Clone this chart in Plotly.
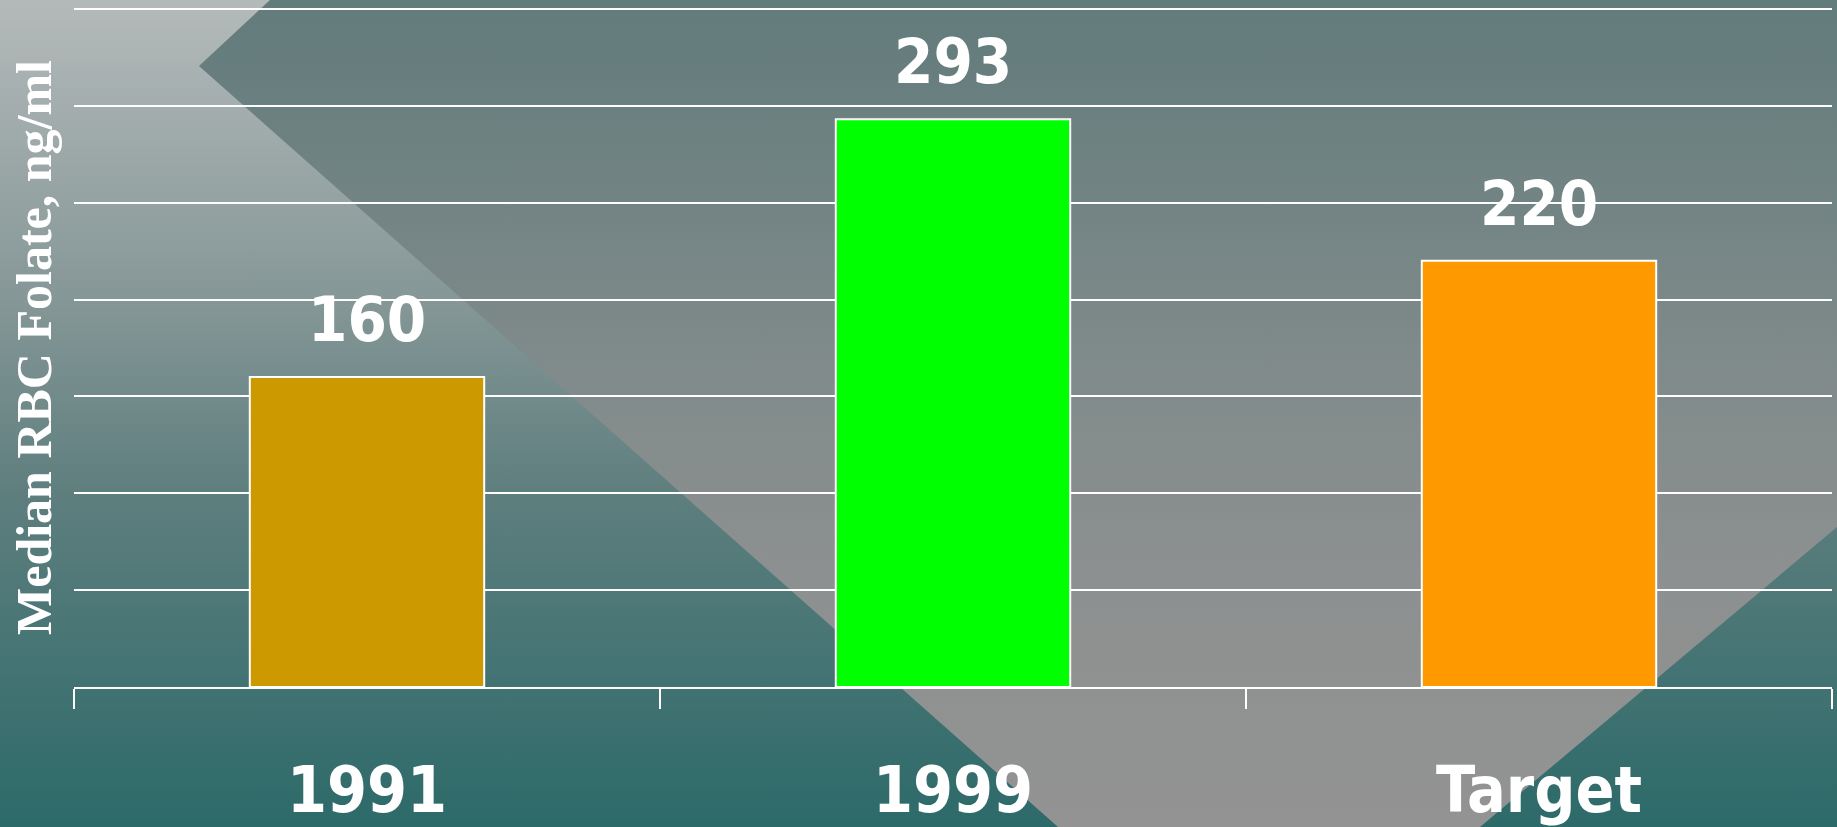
import base64
import plotly.graph_objects as go

# ---- data ----
categories = ["1991", "1999", "Target"]
values = [160, 293, 220]
bar_colors = ["#CC9900", "#00FF00", "#FF9900"]
y_title = "Median RBC Folate, ng/ml"

# ---- figure geometry ----
W, H = 1837, 827
ML, MR, MT, MB = 74, 5, 5, 140
PW, PH = W - ML - MR, H - MT - MB

LABEL_FONT = "DejaVu Sans Condensed, Inter, sans-serif"

# ---- decorative slide background (gradients) as an SVG image ----
svg = f'''<svg xmlns="http://www.w3.org/2000/svg" width="{W}" height="{H}" viewBox="0 0 {W} {H}" preserveAspectRatio="none">
<defs>
<linearGradient id="g1" x1="0" y1="0" x2="0" y2="1">
<stop offset="0" stop-color="#b4baba"/>
<stop offset="0.36" stop-color="#869797"/>
<stop offset="0.6" stop-color="#5e7e7e"/>
<stop offset="1" stop-color="#2c6a69"/>
</linearGradient>
<linearGradient id="g2" x1="0" y1="0" x2="0" y2="1">
<stop offset="0" stop-color="#627b7b"/>
<stop offset="0.42" stop-color="#7f8a8a"/>
<stop offset="0.7" stop-color="#8d9090"/>
<stop offset="1" stop-color="#939393"/>
</linearGradient>
</defs>
<rect x="0" y="0" width="{W}" height="{H}" fill="url(#g1)"/>
<polygon points="270,0 199,66 1058,{H} 1480,{H} {W},527 {W},0" fill="url(#g2)"/>
</svg>'''
bg_src = "data:image/svg+xml;base64," + base64.b64encode(svg.encode()).decode()

fig = go.Figure()
fig.add_trace(go.Bar(
    x=categories, y=values,
    marker=dict(color=bar_colors, line=dict(color="white", width=2)),
    width=0.4, showlegend=False, hoverinfo="skip",
))

# value labels above bars (category index positions)
for i, v in enumerate(values):
    fig.add_annotation(
        x=i, y=v, text=str(v), showarrow=False,
        xanchor="center", yanchor="bottom", yshift=19,
        font=dict(family=LABEL_FONT, size=63, color="white", weight="bold"),
    )

# y-axis title (rotated)
fig.add_annotation(
    xref="paper", yref="paper", x=0, y=0.5, xshift=-40, yshift=-2,
    text=y_title, textangle=-90, showarrow=False,
    xanchor="center", yanchor="middle",
    font=dict(family="Liberation Serif", size=50, color="white", weight="bold"),
)

fig.add_layout_image(dict(
    source=bg_src, xref="paper", yref="paper",
    x=-ML / PW, y=1 + MT / PH, sizex=W / PW, sizey=H / PH,
    xanchor="left", yanchor="top", sizing="stretch", layer="below",
))

fig.update_layout(
    width=W, height=H,
    margin=dict(l=ML, r=MR, t=MT, b=MB, pad=0),
    paper_bgcolor="#2c6a69", plot_bgcolor="rgba(0,0,0,0)",
    bargap=0.6,
    xaxis=dict(
        type="category", range=[-0.5, 2.5], automargin=False,
        showgrid=False, showline=True, linecolor="white", linewidth=2,
        ticks="outside", tickson="boundaries", ticklen=20, tickwidth=2, tickcolor="white",
        tickangle=0,
        tickfont=dict(family=LABEL_FONT, size=64, color="white", weight="bold"),
        ticklabelstandoff=46,
    ),
    yaxis=dict(
        range=[0, 352], tick0=0, dtick=50, showgrid=True, gridcolor="white", gridwidth=2,
        zeroline=False, showticklabels=False, ticks="", showline=False, automargin=False,
    ),
)

fig.write_html(
    "out.html",
    config={"displayModeBar": False},
    post_script="document.body.style.margin='0';document.body.style.overflow='hidden';",
)
